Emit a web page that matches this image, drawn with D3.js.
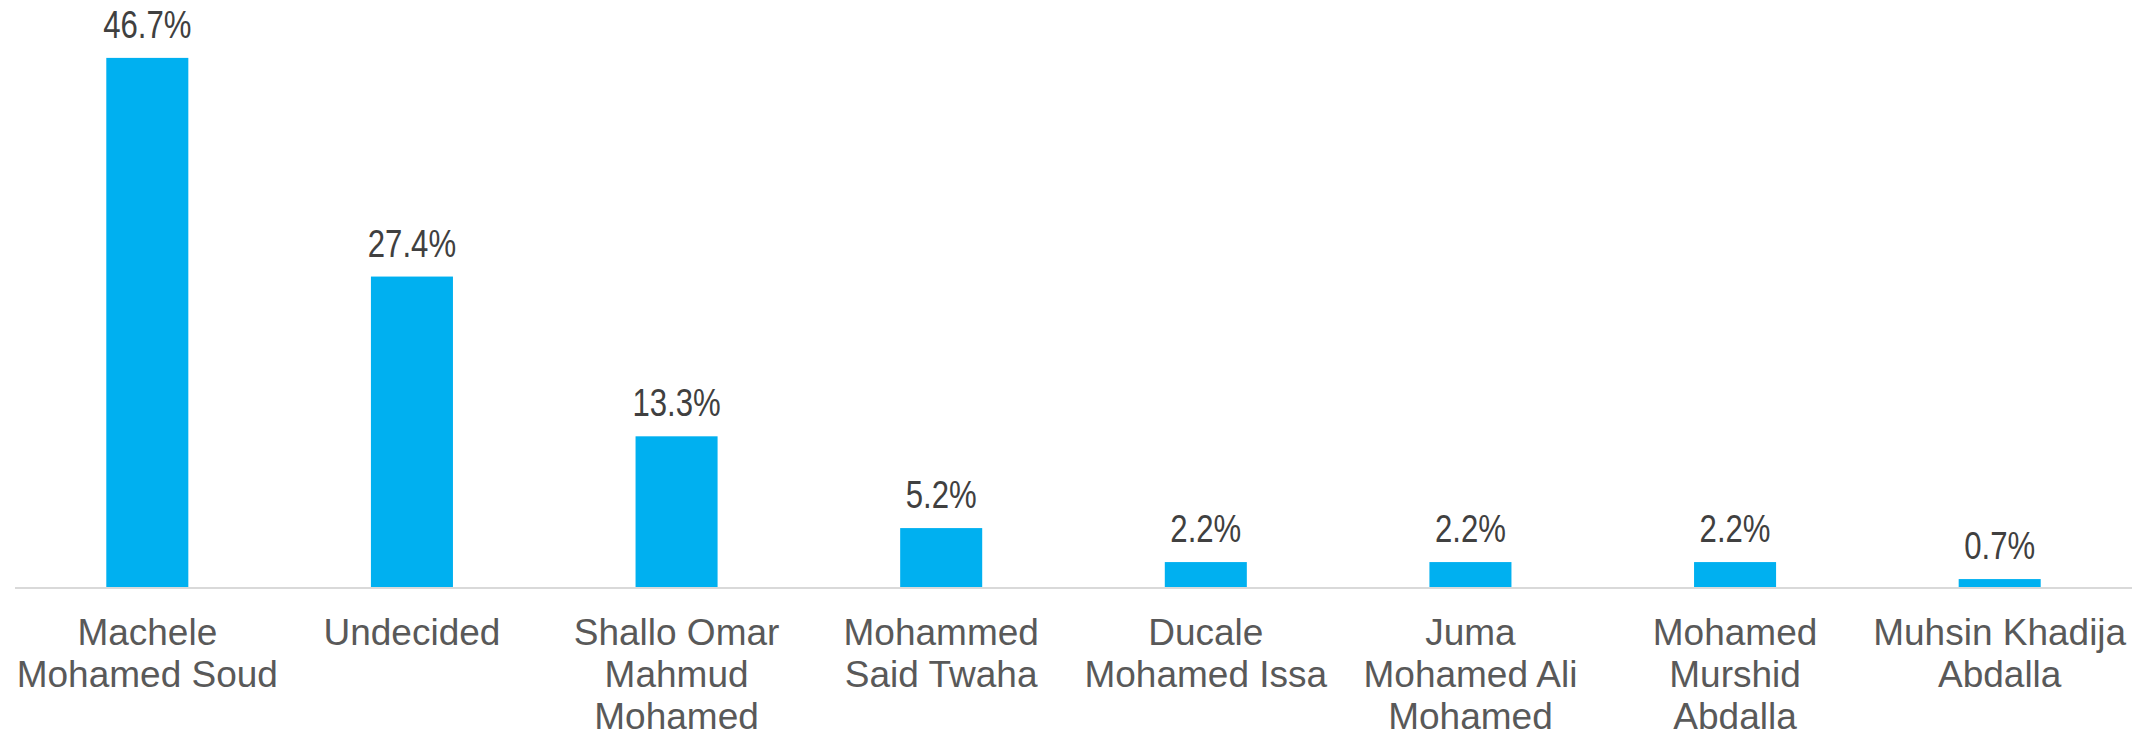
<!DOCTYPE html>
<html><head><meta charset="utf-8">
<script src="https://cdn.jsdelivr.net/npm/d3@7"></script>
<style>html,body{margin:0;padding:0;background:#fff;}svg{display:block;}</style>
</head><body>
<svg id="chart" width="2139" height="734"></svg>
<script>
const categories = [
  ["Machele", "Mohamed Soud"],
  ["Undecided"],
  ["Shallo Omar", "Mahmud", "Mohamed"],
  ["Mohammed", "Said Twaha"],
  ["Ducale", "Mohamed Issa"],
  ["Juma", "Mohamed Ali", "Mohamed"],
  ["Mohamed", "Murshid", "Abdalla"],
  ["Muhsin Khadija", "Abdalla"]
];
const values = [46.7, 27.4, 13.3, 5.2, 2.2, 2.2, 2.2, 0.7];
const valueLabels = ["46.7%", "27.4%", "13.3%", "5.2%", "2.2%", "2.2%", "2.2%", "0.7%"];

const svg = d3.select("#chart");
const left = 15, right = 2132, baseline = 587;
const names = categories.map(c => c.join(" "));

const x = d3.scaleBand().domain(names).range([left, right]).paddingInner(0.69).paddingOuter(0.345);
const y = d3.scaleLinear().domain([0, 50]).range([baseline, baseline - 566.5]);

svg.append("g").selectAll("rect").data(values).join("rect")
  .attr("x", (d, i) => x(names[i]))
  .attr("width", x.bandwidth())
  .attr("y", d => y(d))
  .attr("height", d => y(0) - y(d))
  .attr("fill", "#00B0F0");

svg.append("line")
  .attr("x1", left).attr("x2", right)
  .attr("y1", baseline + 1).attr("y2", baseline + 1)
  .attr("stroke", "#D9D9D9").attr("stroke-width", 2);

svg.append("g").selectAll("text").data(values).join("text")
  .attr("transform", (d, i) => `translate(${x(names[i]) + x.bandwidth() / 2},${y(d) - 20}) scale(0.82,1)`)
  .attr("text-anchor", "middle")
  .attr("font-family", "Liberation Sans, Arial, sans-serif")
  .attr("font-size", 38)
  .attr("fill", "#404040")
  .text((d, i) => valueLabels[i]);

const cat = svg.append("g").selectAll("text").data(categories).join("text")
  .attr("text-anchor", "middle")
  .attr("font-family", "Liberation Sans, Arial, sans-serif")
  .attr("font-size", 37)
  .attr("fill", "#595959");
cat.each(function (lines, i) {
  const t = d3.select(this);
  lines.forEach((ln, j) => {
    t.append("tspan")
      .attr("x", x(names[i]) + x.bandwidth() / 2)
      .attr("y", 645 + j * 42)
      .text(ln);
  });
});
</script>
</body></html>
